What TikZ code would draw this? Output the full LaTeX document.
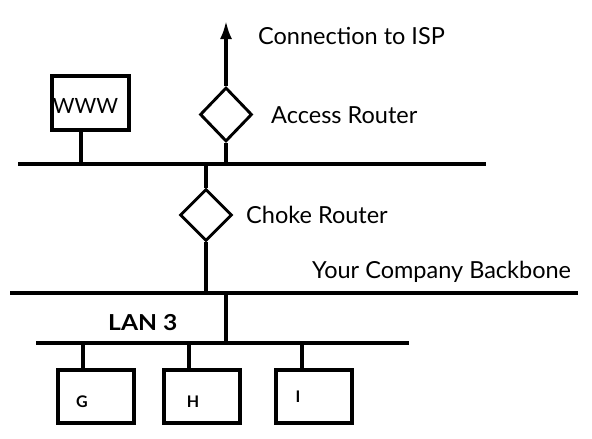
\documentclass[tikz,border=0pt]{standalone}
\usepackage{fontspec}
\setmainfont{Lato}
\usetikzlibrary{shapes.geometric,arrows.meta}
\begin{document}
\begin{tikzpicture}[x=1pt,y=-1pt,
  wire/.style={line width=3.1pt},
  bus/.style={line width=3.3pt},
  router/.style={diamond,draw,line width=2.9pt,inner sep=0pt,minimum width=52pt,minimum height=54pt},
  hostbox/.style={rectangle,draw,line width=3.1pt,inner sep=0pt,minimum width=76pt,minimum height=53pt},
  lbl/.style={font=\fontsize{23.5}{26}\selectfont,anchor=west,inner sep=0pt},
  small/.style={font=\fontsize{16}{18}\selectfont\bfseries,inner sep=0pt}]
\useasboundingbox (0,0) rectangle (592,439);
% buses
\coordinate (tbL) at (18,164);
\coordinate (tbR) at (486,164);
\coordinate (bbL) at (10,293);
\coordinate (bbR) at (578,293);
\coordinate (lanL) at (36,343);
\coordinate (lanR) at (409,343);
\draw[bus] (tbL) -- (tbR);
\draw[bus] (bbL) -- (bbR);
\draw[bus] (lanL) -- (lanR);
% WWW server
\node[hostbox,minimum width=77pt,minimum height=54pt] (www) at (90.5,103) {};
\node[font=\fontsize{21}{24}\selectfont,inner sep=0pt] (wwwt) at (85.5,106) {WWW};
\coordinate (wwwtap) at (81,164);
\draw[wire] (wwwtap) -- (wwwtap |- www.south);
% access router
\node[router] (access) at (226,114.5) {};
\coordinate (isp) at (226,21);
\draw[wire] (access.south) -- (access.south |- tbL);
\draw[wire,-{Latex[length=18pt,width=12pt]}] (access.north) -- (isp);
\node[lbl] (ispt) at (258,36) {Connection to ISP};
\node[lbl] (acct) at (271,115) {Access Router};
% choke router
\node[router,minimum width=52pt,minimum height=52pt] (choke) at (206,215) {};
\draw[wire] (choke.north) -- (choke.north |- tbL);
\draw[wire] (choke.south) -- (choke.south |- bbL);
\node[lbl] (chkt) at (246,215) {Choke Router};
\node[lbl] (bbt) at (312,272) {Your Company Backbone};
% LAN 3
\coordinate (lantap) at (226,293);
\draw[wire] (lantap) -- (lantap |- lanL);
\node[lbl,font=\fontsize{22}{24}\selectfont\bfseries] (lant) at (108,323) {\scalebox{1.12}[1]{LAN 3}};
% hosts
\node[hostbox] (g) at (96,396.5) {};
\node[hostbox] (h) at (202,396.5) {};
\node[hostbox] (i) at (314,396.5) {};
\node[small] (gt) at (82,402) {G};
\node[small] (ht) at (193,402) {H};
\node[small] (it) at (298,397) {I};
\coordinate (gtap) at (83,343);
\coordinate (htap) at (189,343);
\coordinate (itap) at (302,343);
\draw[wire] (gtap) -- (gtap |- g.north);
\draw[wire] (htap) -- (htap |- h.north);
\draw[wire] (itap) -- (itap |- i.north);
\end{tikzpicture}
\end{document}
